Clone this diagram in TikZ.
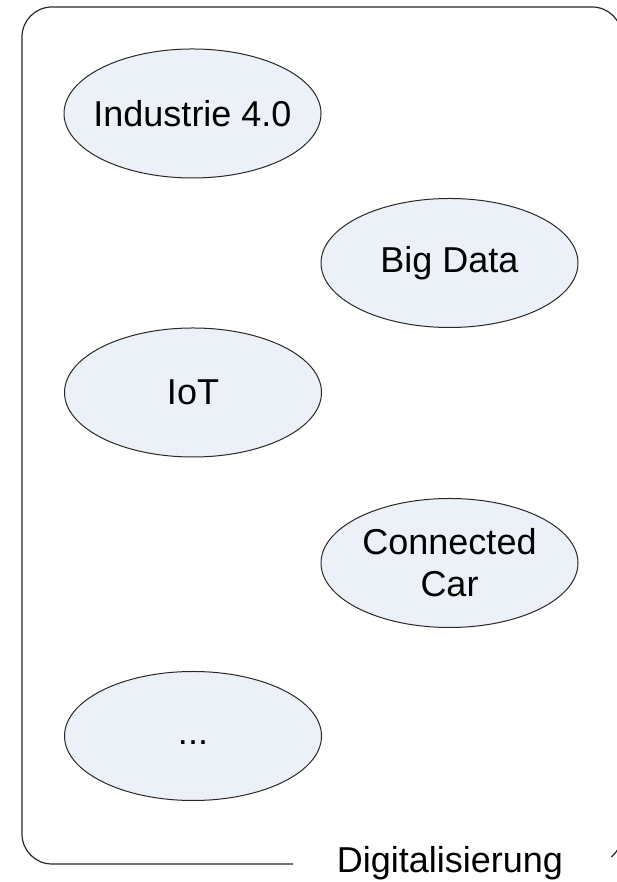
\documentclass[tikz,border=0pt]{standalone}
\usepackage{fontspec}
\setmainfont{Liberation Sans}
\usepackage{xcolor}
\usepackage{tikz}
\usetikzlibrary{
    positioning,
    shapes.geometric
}
\definecolor{topicFill}{RGB}{236, 241, 248}
\definecolor{frameLine}{RGB}{40, 40, 40}

\begin{document}
\begin{tikzpicture}[x=0.5pt, y=0.5pt,
        topic/.style={ellipse, draw=frameLine, line width=0.5pt, fill=topicFill,
            minimum width=128.5pt, minimum height=64.5pt, inner xsep=-5pt, inner ysep=0pt,
            align=center, font=\fontsize{18}{21}\selectfont}]
            \useasboundingbox (0, 0) rectangle (616, 882);
            
            % Container frame, open at the bottom for its label
            \draw[frameLine, line width=0.6pt] (293, 18) -- (52, 18) arc (270:180:30)
                -- (22, 845) arc (180:90:30)
                -- (592, 875) arc (90:0:30)
                -- (622, 48) arc (0:-50:30);
            \node[anchor=base, font=\fontsize{18}{21}\selectfont] (digi) at (450, 10) {Digitalisierung};
            
            % Topics
            \node[topic] (ind) at (192.5, 768.5) {Industrie 4.0};
            \node[topic] (bigdata) at (449.5, 619) {Big Data};
            \node[topic] (iot) at (193, 489.5) {IoT};
            \node[topic] (car) at (449.5, 319) {Connected\\Car};
            \node[topic] (more) at (193, 146) {\strut...};
        \end{tikzpicture}
\end{document}
